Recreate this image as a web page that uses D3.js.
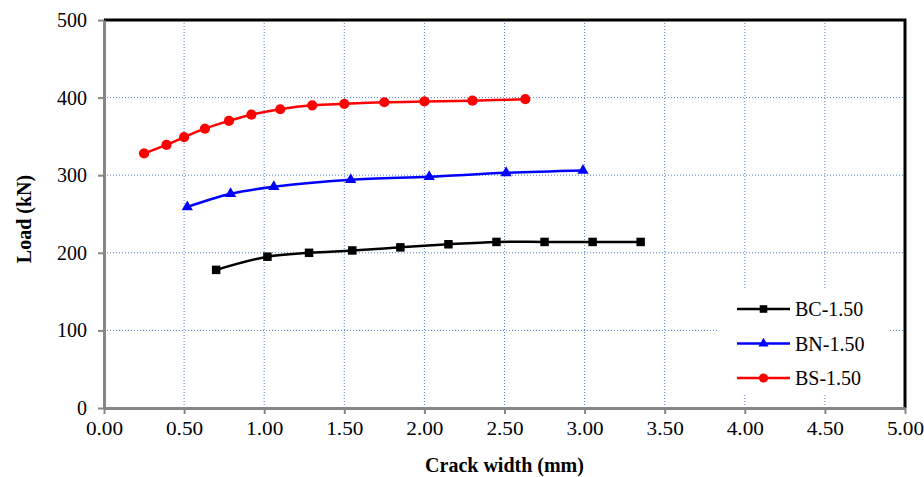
<!DOCTYPE html>
<html>
<head>
<meta charset="utf-8">
<script src="https://cdn.jsdelivr.net/npm/d3@7"></script>
<style>
    body { margin: 0; background: #fff; }
    .chart text { font-family: "Liberation Serif", "Times New Roman", serif; fill: #000; }
</style>
</head>
<body>
<div class="chart"></div>
<script>
// data
const seriesNames = ["BC-1.50", "BN-1.50", "BS-1.50"];
const bcX = [0.70, 1.02, 1.28, 1.55, 1.85, 2.15, 2.45, 2.75, 3.05, 3.35];
const bcY = [178, 195, 200, 203, 207, 211, 214, 214, 214, 214];
const bnX = [0.52, 0.79, 1.06, 1.54, 2.03, 2.51, 2.99];
const bnY = [259, 276, 285, 294, 298, 303, 306];
const bsX = [0.25, 0.39, 0.50, 0.63, 0.78, 0.92, 1.10, 1.30, 1.50, 1.75, 2.00, 2.30, 2.63];
const bsY = [328, 339, 349, 360, 370, 378, 385, 390, 392, 394, 395, 396, 398];
const xTicks = [0, 0.5, 1, 1.5, 2, 2.5, 3, 3.5, 4, 4.5, 5];
const yTicks = [0, 100, 200, 300, 400, 500];

function main(){
    var margin = {top: 20, right: 19, bottom: 69, left: 104};
    const width = 924 - margin.left - margin.right;
    const height = 477 - margin.top - margin.bottom;

    const svg = d3.select(".chart")
                    .append("svg")
                    .attr("width", 924)
                    .attr("height", 477)
                    .append("g")
                    .attr("transform", "translate(" + margin.left + "," + margin.top + ")");

    let xScale = d3.scaleLinear().domain([0, 5]).range([0, width]);
    let yScale = d3.scaleLinear().domain([0, 500]).range([height, 0]);

    // dotted grid
    svg.append("g")
        .selectAll("line")
        .data(xTicks.filter(d => d > 0 && d < 5))
        .enter()
        .append("line")
        .attr("x1", d => xScale(d)).attr("x2", d => xScale(d))
        .attr("y1", 0).attr("y2", height)
        .attr("stroke", "#4f81c7")
        .attr("stroke-width", 1)
        .attr("stroke-dasharray", "1,2");

    svg.append("g")
        .selectAll("line")
        .data(yTicks.filter(d => d > 0 && d < 500))
        .enter()
        .append("line")
        .attr("y1", d => yScale(d)).attr("y2", d => yScale(d))
        .attr("x1", 0).attr("x2", width)
        .attr("stroke", "#4f81c7")
        .attr("stroke-width", 1)
        .attr("stroke-dasharray", "1,2");

    // top + right frame
    svg.append("path")
        .attr("d", `M0,0H${width}V${height}`)
        .attr("fill", "none")
        .attr("stroke", "#000")
        .attr("stroke-width", 3);

    let xAxis = d3.axisBottom(xScale).tickValues(xTicks).tickFormat(d3.format(".2f")).tickSize(6).tickSizeOuter(0);
    let yAxis = d3.axisLeft(yScale).tickValues(yTicks).tickFormat(d3.format("d")).tickSize(6).tickSizeOuter(0);

    let gx = svg.append("g")
        .attr("class", "axis x-axis")
        .attr("transform", `translate(0, ${height})`)
        .call(xAxis);
    let gy = svg.append("g")
        .attr("class", "axis y-axis")
        .call(yAxis);

    [gx, gy].forEach(g => {
        g.select(".domain").attr("stroke", "#868686").attr("stroke-width", 3);
        g.selectAll(".tick line").attr("stroke", "#868686").attr("stroke-width", 2);
        g.selectAll(".tick text")
            .attr("font-family", "Liberation Serif, serif")
            .attr("font-size", 20)
            .attr("fill", "#000");
    });
    gx.selectAll(".tick text").attr("y", 14).attr("font-size", 19).attr("transform", "scale(1.12,1)");
    gy.selectAll(".tick text").attr("x", -17);

    // axis titles
    svg.append("text")
        .attr("x", width / 2)
        .attr("y", height + 64)
        .attr("text-anchor", "middle")
        .attr("font-weight", "bold")
        .attr("font-size", 20)
        .text("Crack width (mm)");

    svg.append("text")
        .attr("transform", `translate(${-73}, ${height / 2 + 5}) rotate(-90)`)
        .attr("text-anchor", "middle")
        .attr("font-weight", "bold")
        .attr("font-size", 20)
        .text("Load (kN)");

    // series
    const series = [
        {name: seriesNames[0], xs: bcX, ys: bcY, color: "#000000", symbol: d3.symbolSquare, size: 72},
        {name: seriesNames[1], xs: bnX, ys: bnY, color: "#0000ff", symbol: d3.symbolTriangle, size: 55},
        {name: seriesNames[2], xs: bsX, ys: bsY, color: "#ff0000", symbol: d3.symbolCircle, size: 82}
    ];

    let line = d3.line()
        .x(d => xScale(d[0]))
        .y(d => yScale(d[1]))
        .curve(d3.curveCatmullRom.alpha(0.5));

    series.forEach(s => {
        let pts = s.xs.map((x, i) => [x, s.ys[i]]);
        svg.append("path")
            .datum(pts)
            .attr("d", line)
            .attr("fill", "none")
            .attr("stroke", s.color)
            .attr("stroke-width", 2.5);
        svg.append("g")
            .selectAll("path")
            .data(pts)
            .enter()
            .append("path")
            .attr("transform", d => `translate(${xScale(d[0])},${yScale(d[1])})`)
            .attr("d", d3.symbol().type(s.symbol).size(s.size))
            .attr("fill", s.color);
    });

    // legend
    let legend = svg.append("g").attr("transform", `translate(${613}, ${269})`);
    legend.append("rect")
        .attr("x", 0).attr("y", 0)
        .attr("width", 171).attr("height", 106)
        .attr("fill", "#fff");
    series.forEach((s, i) => {
        let ly = 20 + i * 34.5;
        legend.append("line")
            .attr("x1", 20).attr("x2", 73)
            .attr("y1", ly).attr("y2", ly)
            .attr("stroke", s.color)
            .attr("stroke-width", 2.5);
        legend.append("path")
            .attr("transform", `translate(46.5,${ly})`)
            .attr("d", d3.symbol().type(s.symbol).size(s.size * 0.8))
            .attr("fill", s.color);
        legend.append("text")
            .attr("x", 78)
            .attr("y", ly + 7)
            .attr("font-size", 20)
            .text(s.name);
    });
}

main();
</script>
</body>
</html>
